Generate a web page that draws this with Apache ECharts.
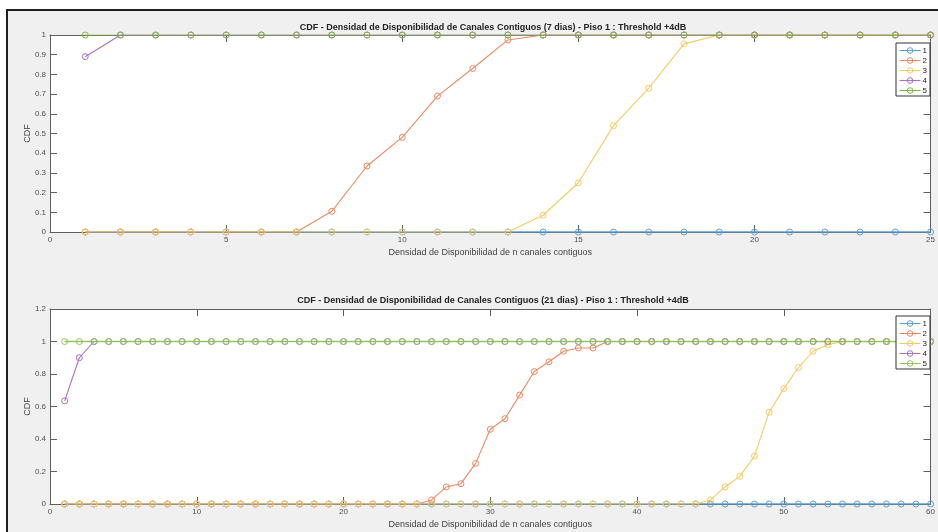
<!DOCTYPE html>
<html>
<head>
<meta charset="utf-8">
<script src="https://cdn.jsdelivr.net/npm/echarts@6/dist/echarts.min.js"></script>
<style>
html,body{margin:0;padding:0;background:#fff;width:938px;height:532px;overflow:hidden;}
#frame{position:absolute;left:6px;top:9px;width:940px;height:530px;border:2px solid #1e1e1e;background:#f0f0f0;}
#chart{position:absolute;left:0;top:0;width:938px;height:532px;}
</style>
</head>
<body>
<div id="frame"></div>
<div id="chart"></div>
<script>
// ---- data ----
const seriesNames = ['1', '2', '3', '4', '5'];
const titleTop = 'CDF - Densidad de Disponibilidad de Canales Contiguos (7 dias) - Piso 1 : Threshold +4dB';
const titleBottom = 'CDF - Densidad de Disponibilidad de Canales Contiguos (21 dias) - Piso 1 : Threshold +4dB';
const xName = 'Densidad de Disponibilidad de n canales contiguos';
const yName = 'CDF';

// top panel: n = 1..25
const n7 = [1,2,3,4,5,6,7,8,9,10,11,12,13,14,15,16,17,18,19,20,21,22,23,24,25];
const s1_7 = [0,0,0,0,0,0,0,0,0,0,0,0,0,0,0,0,0,0,0,0,0,0,0,0,0];
const s2_7 = [0,0,0,0,0,0,0,0.105,0.335,0.48,0.69,0.83,0.975,1,1,1,1,1,1,1,1,1,1,1,1];
const s3_7 = [0,0,0,0,0,0,0,0,0,0,0,0,0,0.085,0.25,0.54,0.73,0.955,1,1,1,1,1,1,1];
const s4_7 = [0.89,1,1,1,1,1,1,1,1,1,1,1,1,1,1,1,1,1,1,1,1,1,1,1,1];
const s5_7 = [1,1,1,1,1,1,1,1,1,1,1,1,1,1,1,1,1,1,1,1,1,1,1,1,1];

// bottom panel: n = 1..60
const n21 = [1,2,3,4,5,6,7,8,9,10,11,12,13,14,15,16,17,18,19,20,
             21,22,23,24,25,26,27,28,29,30,31,32,33,34,35,36,37,38,39,40,
             41,42,43,44,45,46,47,48,49,50,51,52,53,54,55,56,57,58,59,60];
const s1_21 = [0,0,0,0,0,0,0,0,0,0,0,0,0,0,0,0,0,0,0,0,
               0,0,0,0,0,0,0,0,0,0,0,0,0,0,0,0,0,0,0,0,
               0,0,0,0,0,0,0,0,0,0,0,0,0,0,0,0,0,0,0,0];
const s2_21 = [0,0,0,0,0,0,0,0,0,0,0,0,0,0,0,0,0,0,0,0,
               0,0,0,0,0,0.025,0.105,0.125,0.25,0.46,0.525,0.67,0.815,0.875,0.94,0.96,0.96,1,1,1,
               1,1,1,1,1,1,1,1,1,1,1,1,1,1,1,1,1,1,1,1];
const s3_21 = [0,0,0,0,0,0,0,0,0,0,0,0,0,0,0,0,0,0,0,0,
               0,0,0,0,0,0,0,0,0,0,0,0,0,0,0,0,0,0,0,0,
               0,0,0,0,0.025,0.105,0.17,0.295,0.565,0.71,0.84,0.94,0.98,1,1,1,1,1,1,1];
const s4_21 = [0.635,0.9,1,1,1,1,1,1,1,1,1,1,1,1,1,1,1,1,1,1,
               1,1,1,1,1,1,1,1,1,1,1,1,1,1,1,1,1,1,1,1,
               1,1,1,1,1,1,1,1,1,1,1,1,1,1,1,1,1,1,1,1];
const s5_21 = [1,1,1,1,1,1,1,1,1,1,1,1,1,1,1,1,1,1,1,1,
               1,1,1,1,1,1,1,1,1,1,1,1,1,1,1,1,1,1,1,1,
               1,1,1,1,1,1,1,1,1,1,1,1,1,1,1,1,1,1,1,1];

// ---- styling ----
const colorsTop = ['#5c9ed4', '#eb8a64', '#f5cb64', '#a872c0', '#7fb545'];
const colorsBot = ['#5c9ed4', '#eb8a64', '#f5cb64', '#a872c0', '#92c460'];
const widthsTop = [1.6, 1.1, 1.1, 1.1, 1.1];
const widthsBot = [1.6, 1.1, 1.1, 1.1, 1.7];
const FONT = '"Liberation Sans", Arial, sans-serif';
const axisCol = '#5e5e5e';
const labelCol = '#505050';

function pairs(xs, ys) { return xs.map((x, i) => [x, ys[i]]); }

function mkSeries(gridIdx, xs, arrs, cols, widths) {
  return arrs.map((ys, k) => ({
    name: seriesNames[k],
    type: 'line',
    xAxisIndex: gridIdx * 2,
    yAxisIndex: gridIdx * 2,
    data: pairs(xs, ys),
    symbol: 'circle',
    symbolSize: 6,
    showAllSymbol: true,
    lineStyle: { width: widths[k], color: cols[k] },
    itemStyle: { color: 'rgba(255,255,255,0)', borderColor: cols[k], borderWidth: 1 },
    emphasis: { disabled: true },
    animation: false
  }));
}

function xAxes(gridIdx, max, interval) {
  const base = {
    type: 'value', gridIndex: gridIdx, min: 0, max: max, interval: interval,
    axisLine: { show: true, onZero: false, lineStyle: { color: axisCol, width: 1 } },
    axisTick: { show: true, inside: true, length: 7, lineStyle: { color: axisCol } },
    splitLine: { show: false }
  };
  return [
    Object.assign({}, base, {
      position: 'bottom',
      axisLabel: { color: labelCol, fontSize: 8, fontFamily: FONT, margin: 4 },
      name: xName, nameLocation: 'middle', nameGap: 16, nameMoveOverlap: false,
      nameTextStyle: { color: '#444', fontSize: 9, fontFamily: FONT }
    }),
    Object.assign({}, base, { position: 'top', axisLabel: { show: false } })
  ];
}

function yAxes(gridIdx, max, interval) {
  const base = {
    type: 'value', gridIndex: gridIdx, min: 0, max: max, interval: interval,
    axisLine: { show: true, onZero: false, lineStyle: { color: axisCol, width: 1 } },
    axisTick: { show: true, inside: true, length: 7, lineStyle: { color: axisCol } },
    splitLine: { show: false }
  };
  return [
    Object.assign({}, base, {
      position: 'left',
      axisLabel: { color: labelCol, fontSize: 8, fontFamily: FONT, margin: 4 },
      name: yName, nameLocation: 'middle', nameGap: 18, nameRotate: 90, nameMoveOverlap: false,
      nameTextStyle: { color: '#444', fontSize: 9, fontFamily: FONT }
    }),
    Object.assign({}, base, { position: 'right', axisLabel: { show: false } })
  ];
}

function legend(top, cols) {
  return {
    data: seriesNames.map((nm, k) => ({
      name: nm,
      itemStyle: { color: 'rgba(255,255,255,0)', borderColor: cols[k], borderWidth: 1 },
      lineStyle: { color: cols[k], width: 1.1 }
    })),
    orient: 'vertical',
    left: 896, top: top,
    itemWidth: 21, itemHeight: 7, itemGap: 1,
    padding: [3, 3, 1, 3],
    backgroundColor: '#fff',
    borderColor: '#333', borderWidth: 1,
    textStyle: { fontSize: 8, lineHeight: 9, color: '#222', fontFamily: FONT, padding: [0, 0, 0, -3] },
    selectedMode: false
  };
}

const chart = echarts.init(document.getElementById('chart'), null, { renderer: 'canvas' });
chart.setOption({
  animation: false,
  backgroundColor: 'transparent',
  title: [
    { text: titleTop, left: 493, top: 23, textAlign: 'center', padding: 0,
      textStyle: { fontSize: 9, fontWeight: 'bold', color: '#222', fontFamily: FONT } },
    { text: titleBottom, left: 493, top: 296, textAlign: 'center', padding: 0,
      textStyle: { fontSize: 9, fontWeight: 'bold', color: '#222', fontFamily: FONT } }
  ],
  grid: [
    { left: 50, top: 35, width: 886, height: 197, show: true, backgroundColor: '#fff', borderWidth: 0 },
    { left: 50, top: 309, width: 886, height: 195, show: true, backgroundColor: '#fff', borderWidth: 0 }
  ],
  xAxis: [].concat(xAxes(0, 25, 5), xAxes(1, 60, 10)),
  yAxis: [].concat(yAxes(0, 1, 0.1), yAxes(1, 1.2, 0.2)),
  legend: [legend(43, colorsTop), legend(316, colorsBot)],
  series: [].concat(
    mkSeries(0, n7, [s1_7, s2_7, s3_7, s4_7, s5_7], colorsTop, widthsTop),
    mkSeries(1, n21, [s1_21, s2_21, s3_21, s4_21, s5_21], colorsBot, widthsBot)
  )
});
</script>
</body>
</html>
